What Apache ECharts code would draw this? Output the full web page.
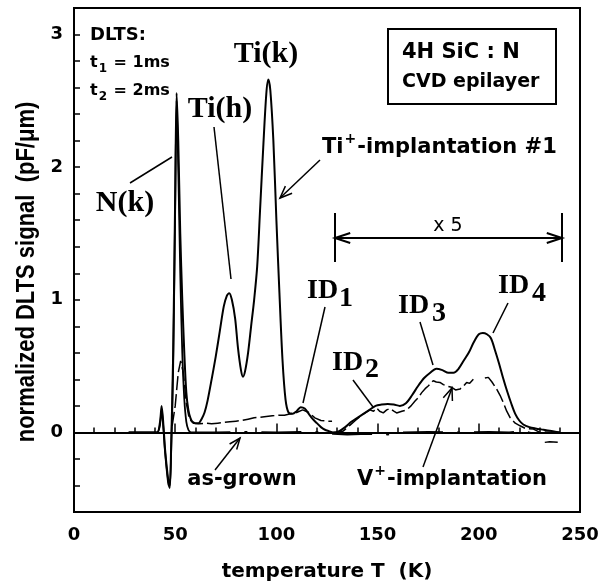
<!DOCTYPE html>
<html>
<head>
<meta charset="utf-8">
<script src="https://cdn.jsdelivr.net/npm/echarts@6/dist/echarts.min.js"></script>
<style>
  html, body { margin: 0; padding: 0; background: #fff; }
  #main { width: 613px; height: 587px; }
</style>
</head>
<body>
<div id="main"></div>
<script>
// axis ticks
var xTicks = [0, 50, 100, 150, 200, 250];
var yTicks = [0, 1, 2, 3];

// Ti+-implantation #1 (solid line), x5 above 128 K
var tiTemp = [27, 35, 41, 42.5, 43.3, 44.2, 45, 46.5, 47.3, 48, 49, 50, 50.7, 51.5, 52.5, 53.5, 54.5, 55.5, 56.5, 57.5,
  58.5, 60, 61.5, 63, 64.5, 66, 68, 70, 72, 74, 75.5, 76.7, 78, 79.6, 81, 82.5, 83.5, 84.5, 86, 87.5,
  89, 90.5, 92, 93.5, 95, 96, 97, 98.5, 100, 101.5, 103, 104.5, 106, 108, 110, 112, 114, 116, 118, 120,
  122, 124, 126, 128, 131, 134, 137, 140, 143, 146, 149, 152, 155, 158, 161, 164, 167, 170, 173, 176,
  179, 182, 185, 187.5, 190, 192.5, 195, 197.5, 200, 202, 204, 206, 208, 210, 212, 214, 216, 218, 220, 222,
  225, 228, 232, 236, 240];
var tiSignal = [0, 0, 0, 0.08, 0.2, 0.05, -0.13, -0.35, -0.4, -0.1, 0.6, 1.8, 2.56, 2.2, 1.5, 1.0, 0.6, 0.3, 0.17, 0.11,
  0.08, 0.07, 0.07, 0.1, 0.15, 0.24, 0.4, 0.57, 0.76, 0.95, 1.03, 1.05, 1.0, 0.86, 0.64, 0.47, 0.42, 0.46, 0.6, 0.8,
  1.0, 1.25, 1.7, 2.15, 2.55, 2.66, 2.58, 2.2, 1.6, 1.05, 0.55, 0.25, 0.15, 0.14, 0.16, 0.19, 0.18, 0.14, 0.1, 0.07,
  0.04, 0.02, 0.01, 0, 0.01, 0.04, 0.08, 0.11, 0.14, 0.17, 0.2, 0.21, 0.215, 0.21, 0.2, 0.22, 0.28, 0.35, 0.41, 0.45,
  0.48, 0.47, 0.45, 0.45, 0.48, 0.54, 0.6, 0.68, 0.74, 0.75, 0.74, 0.71, 0.62, 0.52, 0.41, 0.31, 0.22, 0.14, 0.09, 0.06,
  0.04, 0.03, 0.02, 0.01, 0];

// V+-implantation (broken line), null = gap in the trace
var vTemp = [48.5, 50, 51.5, 52.7, 54, 55.5, 57, 59, 62, 65, 68, 71, 74, 77, 80, 83, 86, 89, 92, 95,
  98, 101, 104, 107, 110, 113, 116, 119, 122, 125, 127.5, 127.8,
  128, 130.5, 133, 136.4, 139, 141.3, 144, 146.2, 148, 149.5, 151, 152.8, 154.5, 156.1, 158, 159.4, 162, 164.4,
  166.5, 168.5, 170, 171.8, 173.5, 175, 177.5, 179, 180.8, 182.5, 184.1, 186.6, 188.5, 190.7, 192.5, 194, 195.5, 197.3, 200,
  203, 204.7, 206.5, 208.8, 210.5, 212.1, 213.8, 215.4, 218, 220.4, 223, 227, 230.2, 231.5,
  232.6, 235, 239];
var vSignal = [0.05, 0.2, 0.45, 0.54, 0.45, 0.22, 0.1, 0.07, 0.065, 0.07, 0.065, 0.07, 0.075, 0.08, 0.085, 0.09, 0.1, 0.11, 0.115, 0.12,
  0.125, 0.13, 0.13, 0.14, 0.15, 0.17, 0.15, 0.11, 0.09, 0.085, 0.085, null,
  0, 0, 0.01, 0.055, 0.09, 0.12, 0.15, 0.17, 0.16, 0.185, 0.16, 0.147, 0.17, 0.18, 0.16, 0.147, 0.16, 0.17,
  0.2, 0.237, 0.26, 0.3, 0.33, 0.35, 0.39, 0.38, 0.377, 0.36, 0.35, 0.34, 0.32, 0.327, 0.35, 0.377, 0.37, 0.4, null,
  0.41, 0.415, 0.38, 0.327, 0.28, 0.226, 0.16, 0.113, 0.07, 0.05, 0.03, 0.025, 0, null,
  -0.075, -0.07, -0.075];

// as-grown: low-temperature part (solid) and the rest (dash-dot)
var asGrownLowTemp = [27, 41, 42.5, 43.3, 44.2, 45, 46.5, 47.3, 48, 49, 50, 50.7, 51.5, 52.5, 53.5, 54.5, 55.5, 56.5, 57.5];
var asGrownLowSignal = [0, 0, 0.06, 0.17, 0.02, -0.15, -0.38, -0.42, -0.15, 0.5, 1.7, 2.5, 2.0, 1.2, 0.6, 0.25, 0.08, 0.02, 0];
var asGrownTemp = [57.5, 70, 85, 100, 115, 126, 128, 135, 145, 155, 162, 175, 190, 205, 215, 222, 226, 230, 235, 240];
var asGrownSignal = [0, 0, 0.003, 0, 0.003, 0, -0.01, -0.015, -0.01, -0.015, 0, 0.003, 0, 0.003, 0, 0.008, -0.005, 0.003, 0, 0];

function pairs(xs, ys) {
  return xs.map(function (x, i) { return [x, ys[i] === null ? '-' : ys[i]]; });
}

var SANS = '"DejaVu Sans", sans-serif';
var ARIAL = '"Liberation Sans", Arial, sans-serif';
var SERIF = '"Liberation Serif", "Times New Roman", serif';

var measureCtx = document.createElement('canvas').getContext('2d');
function textW(str, font) {
  measureCtx.font = font;
  return measureCtx.measureText(str).width;
}

function txt(x, y, s, font, align) {
  return {
    type: 'text', x: x, y: y, z: 100,
    style: { text: s, font: font, fill: '#000', textAlign: align || 'left', textVerticalAlign: 'middle' }
  };
}
function seg(x1, y1, x2, y2, w) {
  return { type: 'line', z: 100, shape: { x1: x1, y1: y1, x2: x2, y2: y2 }, style: { stroke: '#000', lineWidth: w || 1.5 } };
}
// line with an open arrow head at (x2, y2)
function arrow(x1, y1, x2, y2, len, ang, w) {
  var t = Math.atan2(y2 - y1, x2 - x1);
  var a = ang * Math.PI / 180;
  var head = {
    type: 'polyline', z: 100,
    shape: { points: [[x2 - len * Math.cos(t - a), y2 - len * Math.sin(t - a)], [x2, y2], [x2 - len * Math.cos(t + a), y2 - len * Math.sin(t + a)]] },
    style: { stroke: '#000', lineWidth: w || 1.5, fill: null }
  };
  return [seg(x1, y1, x2, y2, w), head];
}
// base text followed by a raised/lowered small piece and more text
function scripted(x, y, base, script, after, font, sFont, dy) {
  var out = [txt(x, y, base, font)];
  var sx = x + textW(base, font) + 1;
  out.push(txt(sx, y + dy, script, sFont));
  if (after) out.push(txt(sx + textW(script, sFont) + 1, y, after, font));
  return out;
}

var fLabel = 'bold 30px ' + SERIF;
var fId = 'bold 28px ' + SERIF;
var fSmall = 'bold 16px ' + SANS;
var fMid = 'bold 21px ' + SANS;

var g = [];
// DLTS settings
g.push(txt(90, 35, 'DLTS:', 'bold 18px ' + SANS));
g = g.concat(scripted(90, 63, 't', '1', ' = 1ms', fSmall, 'bold 12px ' + SANS, 6));
g = g.concat(scripted(90, 91, 't', '2', ' = 2ms', fSmall, 'bold 12px ' + SANS, 6));
// sample box
g.push({ type: 'rect', z: 100, shape: { x: 388, y: 29, width: 168, height: 75 }, style: { fill: '#fff', stroke: '#000', lineWidth: 2 } });
g.push(txt(402, 53, '4H SiC : N', 'bold 21px ' + SANS));
g.push(txt(402, 82, 'CVD epilayer', 'bold 19px ' + SANS));
// peak names
g.push(txt(266, 54, 'Ti(k)', fLabel, 'center'));
g.push(txt(220, 109, 'Ti(h)', fLabel, 'center'));
g.push(txt(125, 203, 'N(k)', fLabel, 'center'));
g.push(seg(130, 183, 172, 157));
g.push(seg(214, 127, 231, 279));
g = g.concat(scripted(322, 148, 'Ti', '+', '-implantation #1', fMid, 'bold 14px ' + SANS, -9));
g = g.concat(arrow(320, 160, 280, 198, 13, 22));
// x5 range
g.push(seg(335, 213, 335, 262, 2));
g.push(seg(562, 213, 562, 262, 2));
g = g.concat(arrow(450, 238, 335, 238, 16, 18, 2));
g = g.concat(arrow(450, 238, 562, 238, 16, 18, 2));
g.push(txt(448, 226, 'x 5', '19px ' + SANS, 'center'));
// deep levels
g.push(txt(307, 291, 'ID', fId)); g.push(txt(339, 299, '1', fId));
g.push(txt(332, 363, 'ID', fId)); g.push(txt(365, 370, '2', fId));
g.push(txt(398, 306, 'ID', fId)); g.push(txt(432, 314, '3', fId));
g.push(txt(498, 286, 'ID', fId)); g.push(txt(532, 294, '4', fId));
g.push(seg(325, 307, 303, 403));
g.push(seg(353, 380, 373, 407));
g.push(seg(420, 322, 433, 365));
g.push(seg(508, 303, 493, 333));
// bottom labels
g.push(txt(242, 480, 'as-grown', fMid, 'center'));
g = g.concat(arrow(215, 470, 240, 438, 12, 22));
g = g.concat(scripted(357, 480, 'V', '+', '-implantation', fMid, 'bold 14px ' + SANS, -9));
g = g.concat(arrow(423, 467, 452, 388, 13, 22));
// axis titles
g.push(txt(327, 572, 'temperature T  (K)', 'bold 20px ' + SANS, 'center'));
g.push({
  type: 'text', x: 27, y: 272, rotation: Math.PI / 2, scaleY: 1.2, z: 100,
  style: { text: 'normalized DLTS signal  (pF/\u03bcm)', font: 'bold 22px ' + ARIAL, fill: '#000', textAlign: 'center', textVerticalAlign: 'middle' }
});

var myChart = echarts.init(document.getElementById('main'));
myChart.setOption({
  animation: false,
  backgroundColor: '#fff',
  grid: {
    left: 74, right: 33, top: 8, bottom: 75,
    show: true, borderColor: '#000', borderWidth: 2,
    outerBoundsMode: 'none'
  },
  xAxis: {
    type: 'value', min: 0, max: 250, interval: 50,
    axisLine: { lineStyle: { color: '#000', width: 2 } },
    axisTick: { inside: true, length: 9, lineStyle: { color: '#000', width: 1.5 } },
    minorTick: { show: true, splitNumber: 5, length: 5, lineStyle: { color: '#000', width: 1.5 } },
    splitLine: { show: false },
    axisLabel: {
      margin: 14, color: '#000', fontFamily: SANS, fontWeight: 'bold', fontSize: 18,
      formatter: function (v) { return xTicks.indexOf(v) >= 0 ? String(v) : ''; }
    }
  },
  yAxis: {
    type: 'value', min: -0.6, max: 3.2, interval: 0.2,
    axisLine: { lineStyle: { color: '#000', width: 2 } },
    axisTick: { inside: true, length: 6, lineStyle: { color: '#000', width: 1.5 } },
    splitLine: { show: false },
    axisLabel: {
      margin: 11, color: '#000', fontFamily: SANS, fontWeight: 'bold', fontSize: 18,
      formatter: function (v) {
        var r = Math.round(v);
        return (Math.abs(v - r) < 1e-6 && yTicks.indexOf(r) >= 0) ? String(r) : '';
      }
    }
  },
  series: [
    {
      name: 'as-grown', type: 'line', symbol: 'none',
      lineStyle: { color: '#000', width: 2, type: [40, 14, 3, 14] },
      data: pairs(asGrownTemp, asGrownSignal)
    },
    {
      name: 'as-grown low T', type: 'line', symbol: 'none', smooth: 0.3,
      lineStyle: { color: '#000', width: 1.8 },
      data: pairs(asGrownLowTemp, asGrownLowSignal)
    },
    {
      name: 'V+-implantation', type: 'line', symbol: 'none',
      lineStyle: { color: '#000', width: 1.5, type: [14, 4] },
      data: pairs(vTemp, vSignal)
    },
    {
      name: 'Ti+-implantation #1', type: 'line', symbol: 'none', smooth: 0.3,
      lineStyle: { color: '#000', width: 2 },
      data: pairs(tiTemp, tiSignal)
    }
  ],
  graphic: { elements: g }
});
</script>
</body>
</html>
